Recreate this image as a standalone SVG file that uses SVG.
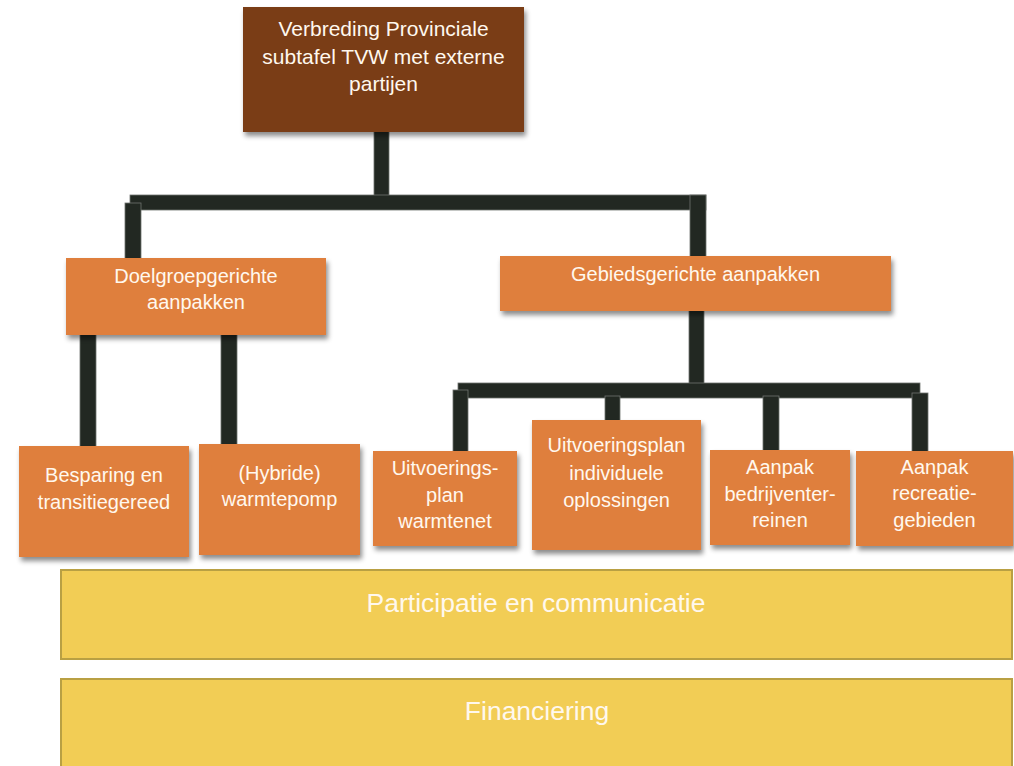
<svg xmlns="http://www.w3.org/2000/svg" width="1014" height="766" viewBox="0 0 1014 766">
  <defs>
    <filter id="sh" x="-10%" y="-10%" width="130%" height="140%">
      <feDropShadow dx="2" dy="4" stdDeviation="2.5" flood-color="#000" flood-opacity="0.45"/>
    </filter>
    <style>
      .bar { fill: #222822; stroke: #6f736f; stroke-width: 0.8; }
      .brown { fill: #7A3C16; filter: url(#sh); }
      .orange { fill: #DF7F3C; filter: url(#sh); }
      .yellow { fill: #F2CD55; stroke: #B9A043; stroke-width: 2; }
      text { font-family: "Liberation Sans", Arial, sans-serif; fill: #FFF8EE; text-anchor: middle; }
      .t20 { font-size: 20px; }
      .t21 { font-size: 21px; }
      .t26 { font-size: 26.5px; }
    </style>
  </defs>
  <rect width="1014" height="766" fill="#ffffff"/>

  <g id="connectors">
    <!-- from top box -->
    <rect class="bar" x="374" y="128" width="15" height="70"/>
    <rect class="bar" x="130" y="195" width="576" height="15"/>
    <rect class="bar" x="125" y="203" width="16" height="58"/>
    <rect class="bar" x="690" y="195" width="16" height="64"/>
    <!-- from Doelgroepgerichte -->
    <rect class="bar" x="80" y="330" width="16" height="118"/>
    <rect class="bar" x="221" y="330" width="16" height="116"/>
    <!-- from Gebiedsgerichte -->
    <rect class="bar" x="689" y="306" width="15" height="80"/>
    <rect class="bar" x="458" y="383" width="462" height="15"/>
    <rect class="bar" x="453" y="390" width="15" height="63"/>
    <rect class="bar" x="605" y="396" width="15" height="26"/>
    <rect class="bar" x="763" y="396" width="16" height="56"/>
    <rect class="bar" x="912" y="393" width="16" height="60"/>
  </g>

  <g id="node-top">
    <rect class="brown" x="243" y="7" width="281" height="125"/>
    <text class="t21" x="383.5" y="36">Verbreding Provinciale</text>
    <text class="t21" x="383.5" y="64">subtafel TVW met externe</text>
    <text class="t21" x="383.5" y="91">partijen</text>
  </g>

  <g id="node-doelgroep">
    <rect class="orange" x="66" y="258" width="260" height="77"/>
    <text class="t20" x="196" y="283">Doelgroepgerichte</text>
    <text class="t20" x="196" y="309">aanpakken</text>
  </g>

  <g id="node-gebied">
    <rect class="orange" x="500" y="256" width="391" height="55"/>
    <text class="t20" x="695.5" y="281">Gebiedsgerichte aanpakken</text>
  </g>

  <g id="node-besparing">
    <rect class="orange" x="19" y="446" width="170" height="111"/>
    <text class="t20" x="104" y="482">Besparing en</text>
    <text class="t20" x="104" y="509">transitiegereed</text>
  </g>

  <g id="node-hybride">
    <rect class="orange" x="199" y="444" width="161" height="111"/>
    <text class="t20" x="279.5" y="480">(Hybride)</text>
    <text class="t20" x="279.5" y="506">warmtepomp</text>
  </g>

  <g id="node-warmtenet">
    <rect class="orange" x="373" y="451" width="144" height="95"/>
    <text class="t20" x="445" y="475">Uitvoerings-</text>
    <text class="t20" x="445" y="502">plan</text>
    <text class="t20" x="445" y="528">warmtenet</text>
  </g>

  <g id="node-individueel">
    <rect class="orange" x="532" y="420" width="169" height="130"/>
    <text class="t20" x="616.5" y="452">Uitvoeringsplan</text>
    <text class="t20" x="616.5" y="480">individuele</text>
    <text class="t20" x="616.5" y="507">oplossingen</text>
  </g>

  <g id="node-bedrijventerreinen">
    <rect class="orange" x="710" y="450" width="140" height="95"/>
    <text class="t20" x="780" y="474">Aanpak</text>
    <text class="t20" x="780" y="501">bedrijventer-</text>
    <text class="t20" x="780" y="527">reinen</text>
  </g>

  <g id="node-recreatie">
    <rect class="orange" x="856" y="451" width="157" height="95"/>
    <text class="t20" x="934.5" y="474">Aanpak</text>
    <text class="t20" x="934.5" y="500">recreatie-</text>
    <text class="t20" x="934.5" y="527">gebieden</text>
  </g>

  <g id="node-participatie">
    <rect class="yellow" x="61" y="570" width="951" height="89"/>
    <text class="t26" x="536" y="612">Participatie en communicatie</text>
  </g>

  <g id="node-financiering">
    <rect class="yellow" x="61" y="679" width="951" height="95"/>
    <text class="t26" x="537" y="720">Financiering</text>
  </g>
</svg>
